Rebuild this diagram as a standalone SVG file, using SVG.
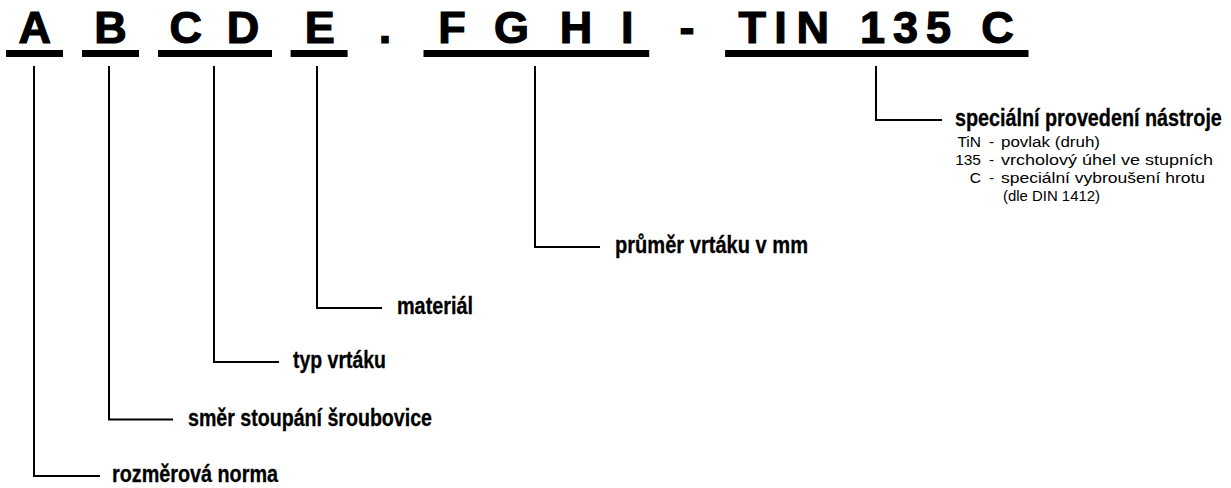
<svg xmlns="http://www.w3.org/2000/svg" width="1231" height="488" viewBox="0 0 1231 488">
<style>
.big{font-family:"Liberation Sans",Arial,sans-serif;font-weight:bold;font-size:45px;fill:#000;stroke:#000;stroke-width:1.2;text-anchor:middle}
.bar{fill:#000}
.lbl{font-family:"Liberation Sans",Arial,sans-serif;font-weight:bold;font-size:23px;fill:#000;stroke:#000;stroke-width:0.3}
.sub{font-family:"Liberation Sans",Arial,sans-serif;font-size:15.5px;fill:#000}
.con{fill:none;stroke:#000;stroke-width:2}
</style>
<rect width="1231" height="488" fill="#fff"/>
<g id="code">
<g id="seg-A"><rect class="bar" x="6" y="50" width="57" height="7"/><text class="big" x="34.7" y="43">A</text></g>
<g id="seg-B"><rect class="bar" x="82" y="50" width="57" height="7"/><text class="big" x="110.6" y="43">B</text></g>
<g id="seg-CD"><rect class="bar" x="158" y="50" width="114" height="7"/><text class="big" x="185.8" y="43">C</text><text class="big" x="242.9" y="43">D</text></g>
<g id="seg-E"><rect class="bar" x="290.6" y="50" width="57" height="7"/><text class="big" x="319.8" y="43">E</text></g>
<g id="sep-dot"><text class="big" x="385" y="43">.</text></g>
<g id="seg-FGHI"><rect class="bar" x="423.5" y="50" width="225.7" height="7"/><text class="big" x="452" y="43">F</text><text class="big" x="511.5" y="43">G</text><text class="big" x="575.9" y="43">H</text><text class="big" x="627.2" y="43">I</text></g>
<g id="sep-dash"><text class="big" x="687" y="43">-</text></g>
<g id="seg-TIN"><rect class="bar" x="725.1" y="50" width="303.4" height="7"/><text class="big" x="752.3" y="43">T</text><text class="big" x="780.5" y="43">I</text><text class="big" x="812.8" y="43">N</text><text class="big" x="872.4" y="43">1</text><text class="big" x="905.6" y="43">3</text><text class="big" x="938.5" y="43">5</text><text class="big" x="997.5" y="43">C</text></g>
</g>
<g id="connectors">
<path class="con" d="M34 66V476H100"/>
<path class="con" d="M109 66V419.5H173"/>
<path class="con" d="M214 66V362H279"/>
<path class="con" d="M317 66V308H382"/>
<path class="con" d="M535 66V247H600"/>
<path class="con" d="M876 66V120H942"/>
</g>
<g id="label-A"><text class="lbl" x="112" y="482" textLength="166" lengthAdjust="spacingAndGlyphs">rozměrová norma</text></g>
<g id="label-B"><text class="lbl" x="188" y="425.5" textLength="244" lengthAdjust="spacingAndGlyphs">směr stoupání šroubovice</text></g>
<g id="label-CD"><text class="lbl" x="293" y="368" textLength="93" lengthAdjust="spacingAndGlyphs">typ vrtáku</text></g>
<g id="label-E"><text class="lbl" x="397" y="314" textLength="76" lengthAdjust="spacingAndGlyphs">materiál</text></g>
<g id="label-FGHI"><text class="lbl" x="615" y="253" textLength="193" lengthAdjust="spacingAndGlyphs">průměr vrtáku v mm</text></g>
<g id="label-TIN"><g transform="scale(0.85 1)"><text class="lbl" x="1123.5" y="126.5" textLength="314" lengthAdjust="spacingAndGlyphs">speciální provedení nástroje</text></g>
<g class="sub">
<text x="981" y="147" text-anchor="end">TiN</text><text x="989" y="147">-</text><text x="1001" y="147" textLength="99" lengthAdjust="spacingAndGlyphs">povlak (druh)</text>
<text x="981" y="165" text-anchor="end">135</text><text x="989" y="165">-</text><text x="1001" y="165" textLength="212" lengthAdjust="spacingAndGlyphs">vrcholový úhel ve stupních</text>
<text x="981" y="183" text-anchor="end">C</text><text x="989" y="183">-</text><text x="1001" y="183" textLength="204" lengthAdjust="spacingAndGlyphs">speciální vybroušení hrotu</text>
<text x="1003" y="201" textLength="97" lengthAdjust="spacingAndGlyphs">(dle DIN 1412)</text>
</g>
</g>
</svg>
